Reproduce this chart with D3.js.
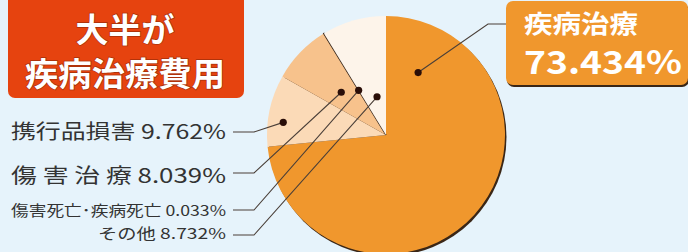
<!DOCTYPE html>
<meta charset="utf-8">
<script src="https://d3js.org/d3.v7.min.js"></script>
<style>
  body { margin: 0; background: #e6f3fb; }
  text { font-family: "Noto Sans CJK JP", "Noto Sans", sans-serif; }
</style>
<div id="chart"></div>
<script>
  // data
  const categories = ["疾病治療", "携行品損害", "傷害治療", "傷害死亡・疾病死亡", "その他"];
  const values = [73.434, 9.762, 8.039, 0.033, 8.732];
  const labelTexts = ["疾病治療", "携行品損害 9.762%", "傷 害 治 療 8.039%", "傷害死亡･疾病死亡 0.033%", "その他 8.732%"];
  const sliceColors = ["#f0972d", "#fbdab7", "#f7c28c", "#3b2a1e", "#fdf4ea"];
  // where the leader dot sits inside each slice (fraction of slice angle, fraction of radius)
  const dotAngleFrac = [0.103, 0.36, 0.49, 0.5, 0.58];
  const dotRadiusFrac = [0.59, 0.87, 0.52, 0.44, 0.33];

  const width = 688, height = 252;
  const cx = 386, cy = 135, r = 119;

  const svg = d3.select("#chart").append("svg")
    .attr("width", width).attr("height", height);

  svg.append("rect").attr("width", width).attr("height", height).attr("fill", "#e6f3fb");

  // pie
  const pie = d3.pie().sort(null).value(d => d);
  const arcs = pie(values);
  const arc = d3.arc().innerRadius(0).outerRadius(r);

  const g = svg.append("g").attr("transform", `translate(${cx},${cy})`);

  // dark shadow under the pie edge
  g.append("circle").attr("cx", 1.5).attr("cy", 2).attr("r", r).attr("fill", "#3a2616");

  g.selectAll("path.slice")
    .data(arcs)
    .join("path")
    .attr("class", "slice")
    .attr("d", arc)
    .attr("fill", (d, i) => sliceColors[i])
    .attr("stroke", (d, i) => i === 3 ? sliceColors[i] : "none")
    .attr("stroke-width", 1.4);

  // dot positions in page coords
  const dots = arcs.map((d, i) => {
    const a = d.startAngle + (d.endAngle - d.startAngle) * dotAngleFrac[i];
    const rr = r * dotRadiusFrac[i];
    return [cx + Math.sin(a) * rr, cy - Math.cos(a) * rr];
  });

  // left labels
  const labelY = [130, 174, 209, 232];
  const lineY = [132, 173, 210, 235];
  const labelSize = [20, 20, 14.5, 15];
  const labelLen = [215, 215, 215, 128];
  const textRight = 226, lineStart = 233, lineBend = 254;

  const leaders = svg.append("g")
    .attr("fill", "none").attr("stroke", "#4a3f38").attr("stroke-width", 1.1);

  d3.range(1, 5).forEach((i, k) => {
    svg.append("text")
      .attr("x", textRight).attr("y", labelY[k])
      .attr("text-anchor", "end")
      .attr("dominant-baseline", "central")
      .attr("font-size", labelSize[k])
      .attr("fill", "#333")
      .attr("textLength", labelLen[k])
      .attr("lengthAdjust", "spacingAndGlyphs")
      .text(labelTexts[i]);
    leaders.append("path")
      .attr("d", d3.line()([[lineStart, lineY[k]], [lineBend, lineY[k]], dots[i]]));
  });

  // leader for main slice
  leaders.append("path")
    .attr("d", d3.line()([dots[0], [488, 24], [507, 24]]));

  svg.selectAll("circle.dot")
    .data(dots)
    .join("circle")
    .attr("class", "dot")
    .attr("cx", d => d[0]).attr("cy", d => d[1])
    .attr("r", 3.6)
    .attr("fill", "#2a0e08");

  // main value box (right)
  svg.append("rect").attr("x", 507).attr("y", 4).attr("width", 182).attr("height", 83)
    .attr("rx", 7).attr("fill", "#3a2616");
  svg.append("rect").attr("x", 506).attr("y", 1).attr("width", 182).attr("height", 84)
    .attr("rx", 7).attr("fill", sliceColors[0]);
  svg.append("text")
    .attr("x", 524).attr("y", 33)
    .attr("font-size", 25).attr("font-weight", "bold").attr("fill", "#fff")
    .attr("textLength", 114).attr("lengthAdjust", "spacingAndGlyphs")
    .text(categories[0]);
  svg.append("text")
    .attr("x", 524).attr("y", 74)
    .attr("font-family", "'Liberation Sans', Arial, sans-serif")
    .attr("font-size", 32).attr("font-weight", "bold").attr("fill", "#fff")
    .attr("textLength", 158).attr("lengthAdjust", "spacingAndGlyphs")
    .text(values[0].toFixed(3) + "%");

  // headline box (left)
  svg.append("rect").attr("x", 8).attr("y", -10).attr("width", 236).attr("height", 108)
    .attr("rx", 7).attr("fill", "#e6430f");
  const head = svg.append("g")
    .attr("font-weight", "bold").attr("fill", "#fff")
    .attr("stroke", "#a8300a").attr("stroke-width", 1.5)
    .attr("paint-order", "stroke").attr("text-anchor", "middle");
  head.append("text").attr("x", 125).attr("y", 28)
    .attr("dominant-baseline", "central").attr("font-size", 33)
    .text("大半が");
  head.append("text").attr("x", 125).attr("y", 72)
    .attr("dominant-baseline", "central").attr("font-size", 33)
    .attr("textLength", 200).attr("lengthAdjust", "spacingAndGlyphs")
    .text("疾病治療費用");
</script>
